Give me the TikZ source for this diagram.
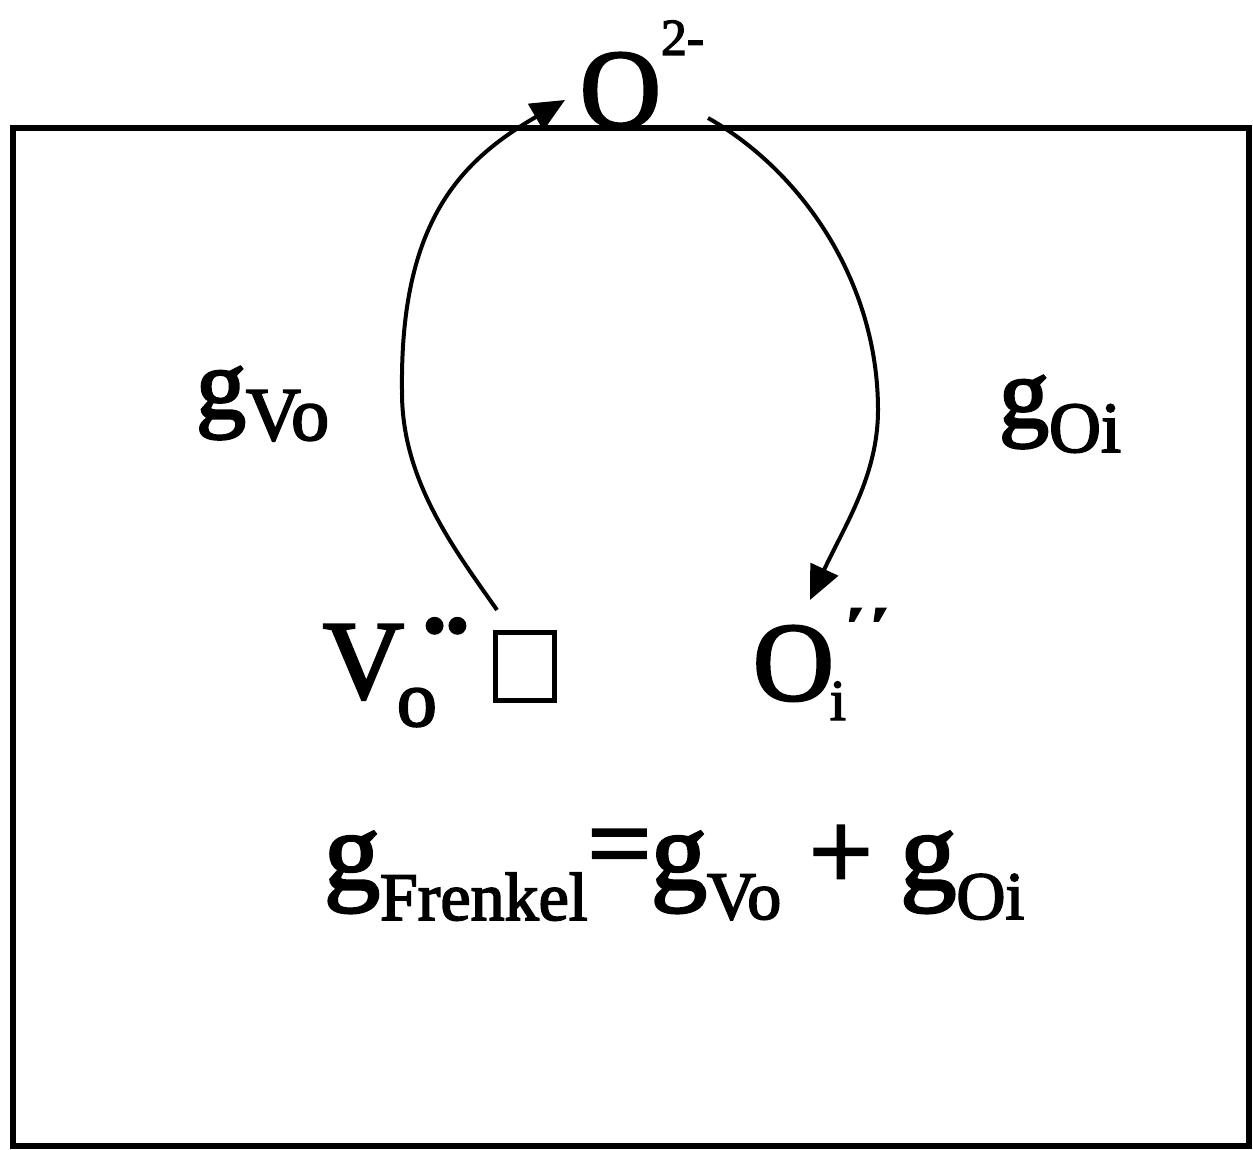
\documentclass[tikz,border=0pt]{standalone}
\usepackage{fontspec}
\setmainfont{Liberation Serif}[FakeBold=2.5]
\usetikzlibrary{arrows.meta}
\newcommand{\fsz}[1]{\fontsize{#1}{#1}\selectfont}
\begin{document}
\begin{tikzpicture}[x=0.5pt,y=-0.5pt,
  txt/.style={inner sep=0pt,outer sep=0pt,anchor=base west},
  curve/.style={line width=2pt,-{Triangle[length=17pt,width=15pt]}},
  frame/.style={line width=3pt}]
\useasboundingbox (0,0) rectangle (1253,1150);
\draw[frame] (13,128) rectangle (1249,1146);
\node[txt] (O2) at (580,127) {\fsz{56}O\raisebox{36pt}{\fsz{26}2-}};
\node[txt] (Vo) at (323,698) {\fsz{56}V\hspace{-3.5pt}\raisebox{-14pt}{\fsz{40}o}};
\node[inner sep=0pt] (dots) at (446,633) {\fsz{34}•\hspace{-0.5pt}•};
\node[draw,line width=2.5pt,minimum width=29.5pt,minimum height=34pt,inner sep=0pt] (sq) at (525,666) {};
\node[txt] (Oi) at (753,700) {\fsz{56}O\hspace{-2pt}\raisebox{-10pt}{\fsz{29}i}};
\node[txt] (pp) at (845,644) {\scalebox{1.15}[0.85]{\fsz{32}\bfseries ′}\hspace{2pt}\scalebox{1.15}[0.85]{\fsz{32}\bfseries ′}};
\node[txt] (gV) at (196,418) {\fsz{50}g\raisebox{-11pt}{\fsz{38}Vo}};
\node[txt] (gO) at (999,427) {\fsz{50}g\raisebox{-12.5pt}{\fsz{36}Oi}};
\node[txt] (eq) at (324,889) {\fsz{56}g\raisebox{-15.5pt}{\fsz{34}Frenkel}\raisebox{4pt}{=}g\raisebox{-15pt}{\fsz{34}Vo} + g\raisebox{-15pt}{\fsz{34}Oi}};
\coordinate (vs) at (497,610);
\coordinate (ot) at (565,100);
\coordinate (os) at (708,118);
\coordinate (it) at (810,600);
\draw[curve] (vs) .. controls (455,550) and (401,480) .. (402,390) .. controls (400,220) and (462,160) .. (ot);
\draw[curve] (os) .. controls (800,170) and (878,280) .. (878,410) .. controls (878,475) and (845,525) .. (it);
\end{tikzpicture}
\end{document}
